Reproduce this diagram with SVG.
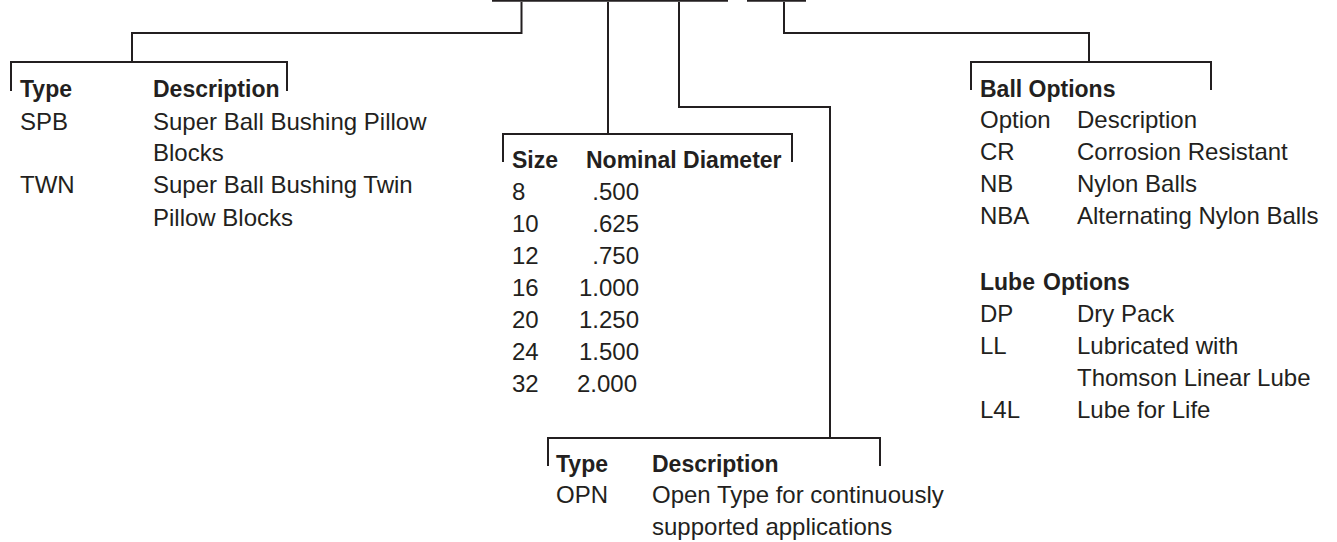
<svg xmlns="http://www.w3.org/2000/svg" width="1337" height="542" viewBox="0 0 1337 542">
<style>
text{font-family:"Liberation Sans",Arial,sans-serif;fill:#231f20;font-size:24px}
.b{font-weight:bold;font-size:23px}
.e{text-anchor:end}
.ln{fill:none;stroke:#231f20;stroke-width:2}
.bar{fill:none;stroke:#231f20;stroke-width:3.5}
</style>
<rect width="1337" height="542" fill="#fff"/>
<g id="connectors">
<line class="bar" x1="492" y1="0" x2="728" y2="0"/>
<line class="bar" x1="747" y1="0" x2="806" y2="0"/>
<polyline class="ln" points="521.5,2 521.5,33 132,33 132,62"/>
<polyline class="ln" points="608,2 608,134"/>
<polyline class="ln" points="679,2 679,107 830,107 830,438"/>
<polyline class="ln" points="784,2 784,33 1089,33 1089,62"/>
</g>
<g id="type-node">
<polyline class="ln" points="11,91 11,62 287,62 287,91"/>
<text class="b" x="20" y="97">Type</text>
<text class="b" x="153" y="97">Description</text>
<text x="20" y="130">SPB</text>
<text x="153" y="130">Super Ball Bushing Pillow</text>
<text x="153" y="161">Blocks</text>
<text x="20" y="193">TWN</text>
<text x="153" y="193">Super Ball Bushing Twin</text>
<text x="153" y="226">Pillow Blocks</text>
</g>
<g id="size-node">
<polyline class="ln" points="503,162 503,134 792,134 792,162"/>
<text class="b" x="512" y="168">Size</text>
<text class="b" x="586" y="168">Nominal Diameter</text>
<text x="512" y="200">8</text><text class="e" x="639" y="200">.500</text>
<text x="512" y="232">10</text><text class="e" x="639" y="232">.625</text>
<text x="512" y="264">12</text><text class="e" x="639" y="264">.750</text>
<text x="512" y="296">16</text><text class="e" x="639" y="296">1.000</text>
<text x="512" y="328">20</text><text class="e" x="639" y="328">1.250</text>
<text x="512" y="360">24</text><text class="e" x="639" y="360">1.500</text>
<text x="512" y="392">32</text><text class="e" x="637" y="392">2.000</text>
</g>
<g id="open-node">
<polyline class="ln" points="548,466 548,438 880,438 880,466"/>
<text class="b" x="556" y="472">Type</text>
<text class="b" x="652" y="472">Description</text>
<text x="556" y="503">OPN</text>
<text x="652" y="503">Open Type for continuously</text>
<text x="652" y="535">supported applications</text>
</g>
<g id="options-node">
<polyline class="ln" points="971,90 971,62 1211,62 1211,90"/>
<text class="b" x="980" y="97">Ball Options</text>
<text x="980" y="128">Option</text><text x="1077" y="128">Description</text>
<text x="980" y="160">CR</text><text x="1077" y="160">Corrosion Resistant</text>
<text x="980" y="192">NB</text><text x="1077" y="192">Nylon Balls</text>
<text x="980" y="224">NBA</text><text x="1077" y="224">Alternating Nylon Balls</text>
<text class="b" x="980" y="290">Lube</text><text class="b" x="1043" y="290">Options</text>
<text x="980" y="322">DP</text><text x="1077" y="322">Dry Pack</text>
<text x="980" y="354">LL</text><text x="1077" y="354">Lubricated with</text>
<text x="1077" y="386">Thomson Linear Lube</text>
<text x="980" y="418">L4L</text><text x="1077" y="418">Lube for Life</text>
</g>
</svg>
